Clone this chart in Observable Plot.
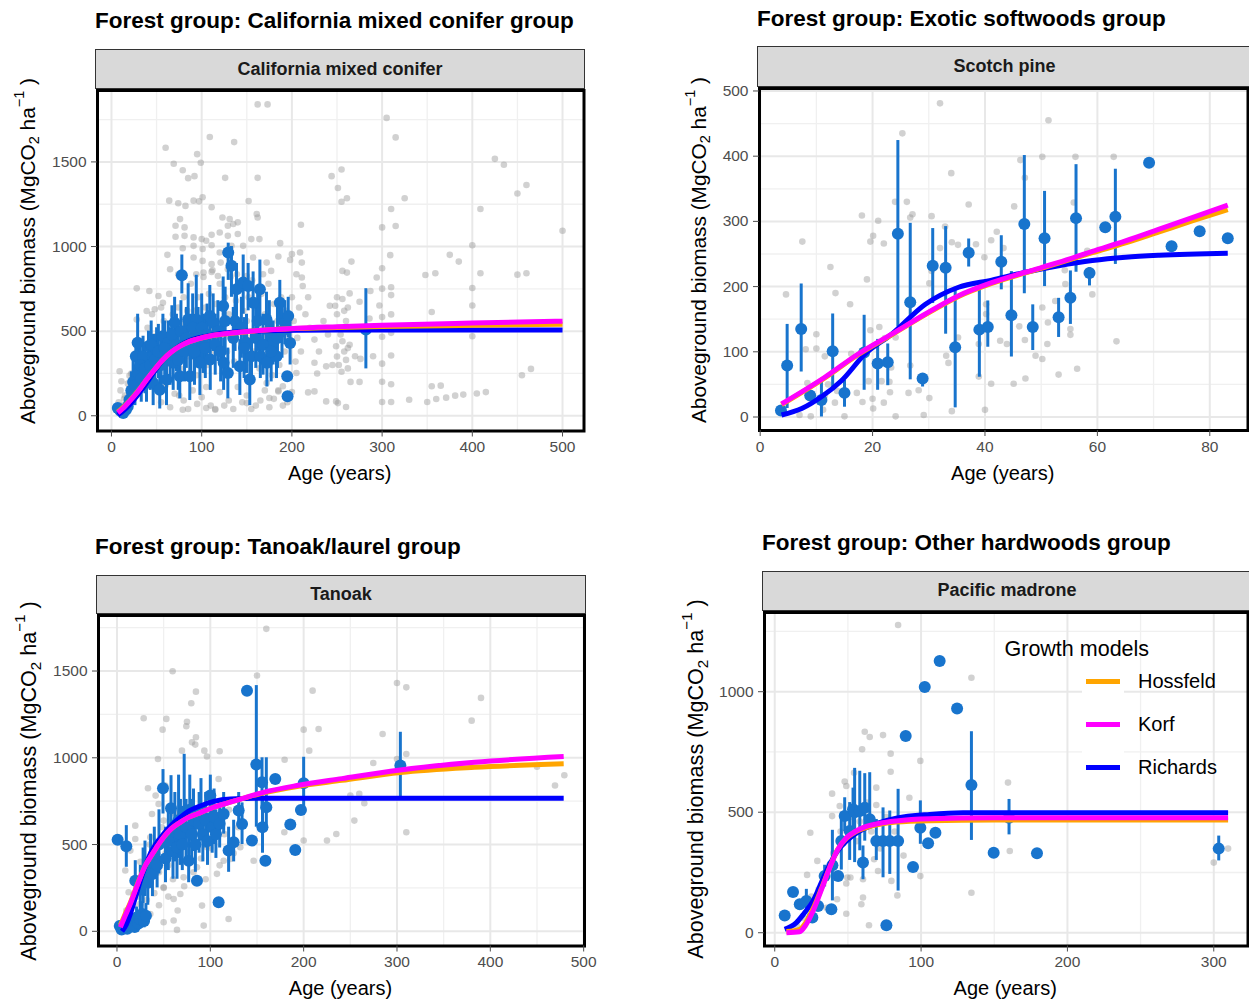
<!DOCTYPE html>
<html><head><meta charset="utf-8">
<script src="https://cdn.jsdelivr.net/npm/d3@7"></script>
<script src="https://cdn.jsdelivr.net/npm/@observablehq/plot@0.6"></script>
<style>
body{margin:0;background:#fff;}
#root{position:relative;width:1249px;height:1004px;overflow:hidden;background:#fff;font-family:"Liberation Sans",Arial,Helvetica,sans-serif;}
.title{position:absolute;font-weight:bold;font-size:22.5px;line-height:1;color:#000;white-space:nowrap;}
.strip{position:absolute;background:#d9d9d9;border:1px solid #333;box-sizing:border-box;font-weight:bold;font-size:18px;color:#1a1a1a;display:flex;align-items:center;justify-content:center;white-space:nowrap;}
.xlab{position:absolute;font-size:20px;line-height:1;transform:translateX(-50%);white-space:nowrap;color:#000;}
.ylab{position:absolute;line-height:1;white-space:nowrap;color:#000;transform:translate(-50%,-50%) rotate(-90deg);}
.sub{font-size:0.7em;position:relative;top:0.3em;}
.sup{font-size:0.7em;position:relative;top:-0.75em;}
.leg{position:absolute;line-height:1;white-space:nowrap;color:#000;}
svg.plot{position:absolute;background:transparent;}
</style></head><body><div id="root"></div>
<script>
// ---------- text ----------
const panelTitles = ["Forest group: California mixed conifer group","Forest group: Exotic softwoods group","Forest group: Tanoak/laurel group","Forest group: Other hardwoods group"];
const stripLabels = ["California mixed conifer","Scotch pine","Tanoak","Pacific madrone"];
const xTitle = "Age (years)";
const legendTitle = "Growth models";
const modelNames = ["Hossfeld","Korf","Richards"];
const modelColors = ["#FFA500","#FF00FF","#0000FF"];

// ---------- ticks ----------
const p1XTicks=[0,100,200,300,400,500], p1XMinor=[50,150,250,350,450];
const p1YTicks=[0,500,1000,1500], p1YMinor=[250,750,1250,1750];
const p2XTicks=[0,20,40,60,80], p2XMinor=[10,30,50,70];
const p2YTicks=[0,100,200,300,400,500], p2YMinor=[50,150,250,350,450];
const p3XTicks=[0,100,200,300,400,500], p3XMinor=[50,150,250,350,450];
const p3YTicks=[0,500,1000,1500], p3YMinor=[250,750,1250,1750];
const p4XTicks=[0,100,200,300], p4XMinor=[50,150,250];
const p4YTicks=[0,500,1000], p4YMinor=[250,750,1250];

// ---------- Panel 1: California mixed conifer ----------
const p1Gray=[[305,1760],[315,1645],[255,1455],[251,1346],[255,1265],[261,1285],[325,1285],[310,1222],[300,1113],[315,1121],[409,1222],[425,1518],[435,1483],[460,1364],[450,1313],[500,1093],[400,1008],[375,951],[385,911],[266,911],[309,949],[300,872],[294,817],[256,856],[261,846],[348,832],[359,842],[409,842],[450,834],[460,842],[400,755],[400,652],[300,751],[310,759],[310,713],[297,652],[287,737],[275,674],[264,723],[355,613],[300,583],[310,599],[286,575],[300,467],[310,490],[400,470],[290,352],[310,356],[300,308],[270,352],[276,336],[265,200],[275,200],[300,201],[310,186],[260,52],[251,75],[300,81],[310,81],[330,95],[350,81],[360,99],[371,107],[381,119],[390,125],[405,132],[415,140],[355,174],[365,178],[455,239],[465,277],
[162,1840],[173,1840],[109,1647],[136,1617],[60,1584],[95,1546],[99,1495],[69,1489],[79,1451],[85,1404],[92,1416],[126,1406],[162,1406],[244,1416],[64,1271],[74,1256],[82,1240],[91,1271],[97,1267],[101,1291],[111,1232],[152,1269],[161,1192],[162,1172],[123,1172],[131,1162],[135,1133],[140,1143],[129,1123],[76,1162],[71,1123],[81,1113],[210,1129],[71,1058],[81,1063],[91,1054],[100,1044],[105,1034],[111,1069],[120,1083],[129,1063],[140,1074],[155,1044],[164,1044],[187,1020],[79,990],[91,1004],[101,985],[111,1008],[120,965],[133,1004],[146,1004],[62,951],[91,935],[101,915],[111,896],[121,905],[131,925],[157,935],[172,905],[185,941],[200,955],[198,921],[209,965],[211,905],[65,866],[74,836],[94,836],[102,846],[111,850],[118,826],[129,866],[139,836],[150,826],[168,836],[177,856],[205,836],[211,817],[212,767],[28,753],[42,737],[52,708],[57,668],[48,629],[39,619],[28,569],[9,263],[20,237],[11,204],[79,36],[105,46],[115,36],[150,75],[175,105],[185,144],[218,138],[225,144],[238,85],[249,85],[172,194],[190,174],[205,253],[225,313],[238,292],[249,411],
[30,300],[33,250],[36,420],[40,520],[42,320],[45,600],[48,470],[50,280],[52,380],[55,640],[58,560],[60,420],[62,310],[64,720],[66,500],[68,600],[70,380],[72,470],[74,640],[76,280],[78,540],[80,700],[82,420],[84,620],[86,350],[88,780],[90,500],[92,620],[94,240],[96,700],[98,560],[100,420],[102,820],[104,640],[106,300],[108,720],[110,520],[112,860],[114,380],[116,660],[118,460],[120,780],[122,560],[124,260],[126,700],[128,380],[130,600],[132,820],[134,470],[136,320],[138,680],[140,540],[142,760],[144,420],[146,620],[148,300],[150,560],[152,700],[154,460],[156,800],[158,380],[160,640],[162,520],[164,280],[166,720],[168,460],[170,600],[172,360],[174,780],[176,520],[178,240],[180,660],[182,430],[184,560],[186,300],[188,700],[190,480],[192,380],[194,620],[196,520],[198,420],[200,700],[202,560],[204,320],[206,460],[208,640],[210,380],
[60,180],[70,130],[80,90],[90,150],[100,110],[110,60],[120,140],[130,90],[140,170],[150,120],[160,60],[170,150],[180,100],[190,60],[200,140],[55,80],[65,50],[75,120],[85,40],[95,70],[105,170],[115,40],[125,60],[135,40],[145,80],[155,40],[165,90],[175,50],[185,150],[195,80],
[250,600],[252,520],[254,480],[256,440],[258,620],[260,560],[262,400],[250,350],[252,300],[255,260],[258,380],[260,330],[262,280],[264,420],[248,650],[250,700],[256,690],[262,640],[215,600],[220,520],[225,450],[230,380],[235,560],[240,480],[245,300],[228,250],[218,700],[242,650],
[5,50],[8,80],[10,150],[12,30],[14,100],[16,60],[18,190],[20,140],[22,250],[24,90],[26,160],[8,20],[12,60],[15,120]];
const p1Means=[[7,46,30,60],[10,30,10,55],[13,16,5,30],[16,35,10,80],[18,55,20,110],[20,95,40,150],[23,120,60,200],[25,160,90,230],[27,352,240,440],[29,431,260,600],[35,352,200,470],[38.8,194,80,330],[41,411,300,500],[46,352,220,480],[46.2,194,60,300],[50,391,250,520],[53.5,154,40,260],[57,470,330,600],[61,214,60,340],[63,431,300,560],[68.4,313,150,460],[70,550,380,700],[75.7,233,100,360],[78,830,720,950],[85,569,380,780],[86.8,233,90,380],[94,569,330,830],[98,313,120,500],[101.6,431,250,600],[109,589,420,770],[109.5,332,150,480],[112.7,550,380,720],[123.8,648,480,820],[124.3,313,150,460],[129.4,965,800,1020],[133,886,700,1000],[129,253,100,400],[138.6,747,550,900],[142.3,292,120,450],[146,787,600,950],[149.7,431,250,600],[151.5,767,620,900],[153.3,214,60,360],[155.2,352,200,500],[157,668,480,850],[164.5,747,560,920],[165,352,220,500],[171.8,569,400,730],[172.3,313,170,460],[179.2,431,300,560],[182.9,352,220,480],[186.6,668,540,800],[192.1,550,420,680],[194.8,233,233,233],[195.2,115,115,115],[195.9,589,460,700],[282,510,277,751],
[22,150,60,260],[24,200,80,330],[26,180,60,300],[30,250,120,380],[32,300,150,440],[33,220,80,360],[37,280,130,420],[43,300,150,450],[44,420,280,560],[48,330,170,480],[52,380,220,540],[55,300,120,460],[59,400,240,560],[65,360,180,520],[67,480,300,650],[72,420,260,600],[74,330,150,500],[77,500,330,680],[81,380,200,560],[83,460,280,640],[88,420,250,600],[90,520,330,720],[92,380,180,560],[96,460,280,640],[100,520,320,720],[104,400,220,580],[106,480,300,660],[115,420,240,600],[118,500,320,680],[121,380,200,560],[126,560,360,760],[135,460,280,640],[137,560,380,740],[144,520,340,700],[147,400,220,580],[160,460,280,640],[162,560,380,740],[168,420,240,600],[175,500,320,680],[177,380,200,560],[184,460,280,640],[189,500,340,660],[198,430,300,560]];
const p1Hossfeld=[[7,22],[12,45],[20,88],[30,150],[39,214],[48,275],[57,331],[66,375],[76,411],[85,435],[94,451],[112,474],[131,486],[168,505],[205,515],[250,521],[300,527],[400,535],[500,541]];
const p1Korf=[[7,18],[12,40],[20,85],[30,148],[39,214],[48,275],[57,331],[66,375],[76,411],[85,435],[94,451],[112,474],[131,487],[168,506],[205,517],[250,526],[300,535],[400,548],[500,559]];
const p1Richards=[[7,5],[12,25],[20,65],[30,130],[39,195],[48,265],[57,330],[66,375],[76,415],[85,440],[94,457],[112,478],[131,492],[150,499],[168,503],[205,506],[300,507],[500,507]];

// ---------- Panel 2: Scotch pine ----------
const p2Gray=[[32.0,481],[51.3,455],[25.3,435],[7.5,269],[12.5,230],[4.6,188],[13.4,190],[16.0,173],[19.0,211],[18.1,309],[19.6,269],[20.1,278],[21.0,301],[22.0,266],[24.0,330],[26.1,330],[26.7,306],[27.1,311],[30.5,308],[32.0,259],[34.0,374],[37.1,326],[34.1,268],[35.2,264],[38.4,265],[39.9,245],[41.1,271],[42.1,284],[43.3,259],[45.2,323],[46.3,394],[47.1,367],[50.2,399],[56.1,399],[62.9,399],[55.8,329],[58.2,255],[59.1,188],[54.2,225],[54.3,204],[52.5,178],[50.2,168],[51.2,145],[51.1,112],[55.2,135],[55.2,126],[46.1,139],[47.1,118],[43.9,112],[45.1,51],[47.2,59],[49.0,94],[50.2,89],[53.1,65],[56.4,74],[63.4,116],[42.7,117],[40.2,173],[40.2,158],[38.9,62],[35.2,122],[33.1,94],[33.5,83],[34.1,9],[30.1,29],[29.1,3],[26.4,37],[28.2,41],[24.1,1],[23.1,38],[23.0,54],[23.3,76],[21.6,55],[22.0,22],[20.1,13],[20.0,28],[19.3,55],[18.2,23],[17.2,37],[16.2,97],[15.0,1],[13.7,40],[13.3,22],[11.5,33],[11.5,93],[10.0,105],[10.0,127],[8.1,104],[8.4,52],[9.0,1],[7.0,3],[11.2,11],[12.1,50],[19.6,133],[21.2,138],[22.2,121],[24.1,122],[26.7,79],[30.1,205],[30.5,224],[32.9,292],[38.9,112],[40.0,11],[41.1,51]];
const p2Means=[[3.7,10,10,10],[4.8,79,13,142],[7.3,135,69,204],[8.9,33,33,33],[10.9,26,0,54],[12.9,101,43,158],[15.0,37,15,56],[18.5,99,41,156],[20.9,82,41,119],[22.7,84,48,112],[24.5,281,138,424],[26.7,176,57,297],[28.9,59,46,66],[30.7,232,174,289],[33.0,229,127,292],[34.7,107,14,199],[37.1,252,230,273],[39.0,134,61,206],[40.5,138,107,178],[42.9,238,195,278],[44.7,156,92,223],[47.0,296,189,401],[48.5,138,102,172],[50.6,274,200,346],[53.1,153,122,182],[55.2,183,142,224],[56.2,305,222,387],[58.6,221,201,229],[61.4,291,291,291],[63.2,307,234,380],[69.2,390,390,390],[73.2,262,262,262],[78.2,285,285,285],[83.2,274,274,274]];
const p2Hossfeld=[[3.8,19],[11.5,60],[17.5,96],[23.4,126],[29.4,157],[35.3,185],[41.2,205],[47.2,221],[53.1,236],[59.1,252],[65,267],[71,284],[77,301],[83.2,318]];
const p2Korf=[[3.8,20],[11.5,61],[17.5,97],[23.4,127],[29.4,158],[35.3,186],[41.2,206],[47.2,222],[53.1,237],[59.1,254],[65,270],[71,288],[77,306],[83.2,325]];
const p2Richards=[[3.8,3],[7.4,13],[10.9,31],[14.5,56],[18.7,97],[23.4,127],[29.4,173],[35.3,199],[41.2,210],[47.2,222],[53.1,232],[59.1,240],[65,245],[71,248],[83.2,251]];

// ---------- Panel 3: Tanoak ----------
const p3Gray=[[160,1743],[59.6,1499],[150,1474],[84.6,1381],[79.6,1314],[209.6,1387],[28.6,1228],[52.9,1224],[48.9,1162],[75,1208],[74.3,1182],[200,1162],[216,1166],[80.4,1089],[83.9,1076],[84.6,1118],[69.6,1041],[93.6,1041],[110,1038],[206,1041],[96.4,1007],[43.9,993],[108.9,878],[100,792],[179.6,989],[33.2,824],[44.6,734],[41.4,782],[37.5,676],[51.8,840],[19.6,609],[19.6,532],[14.3,465],[8.9,350],[12.5,225],[17.9,215],[25,158],[35.7,100],[50,52],[60.7,62],[64.3,8],[92.9,33],[91.1,148],[119.6,71],[67.9,215],[60.7,186],[50,254],[71.4,311],[85.7,369],[107.1,331],[114.3,407],[200,523],[225,523],[235,561],[179.3,571],[132.1,484],[121.4,417],[96.4,484],[146.4,407],[50,638],[62.5,676],[35.7,542],[41.1,446],[30.4,311],
[300,1431],[310,1406],[390,1345],[380,1214],[284.6,1137],[274.6,970],[300,993],[310,1022],[250,782],[259.6,792],[265,738],[254.3,638],[310,571],[450,949],[469.3,840],[479.3,899],
[5,20],[8,60],[10,120],[12,40],[15,80],[18,150],[20,30],[22,200],[25,260],[28,100],[30,380],[32,180],[35,300],[38,420],[40,220],[42,520],[45,340],[48,600],[50,250],[52,450],[55,380],[58,560],[60,300],[62,480],[65,620],[68,400],[70,540],[72,260],[75,680],[78,460],[80,580],[82,340],[85,500],[88,640],[90,420],[92,560],[95,300],[98,700],[100,480],[105,600],[110,380],[115,560],[120,700],[125,450],[130,600],[25,400],[35,500],[45,150],[55,200],[65,120]];
const p3Means=[[3,30,10,60],[5,10,0,30],[7,20,0,50],[9,40,10,80],[11,15,0,40],[13,50,20,90],[15,30,5,60],[17,60,20,100],[19,25,0,60],[21,80,30,140],[23,45,10,90],[25,70,20,130],[27,100,40,170],[29,60,20,110],[31,90,30,160],
[0.7,527,527,527],[10,490,369,609],[19.6,292,177,407],[25,240,120,380],[28,300,160,480],[30,350,200,520],[33,280,150,420],[36,400,250,560],[38,330,200,480],[40,450,300,600],[43,380,250,520],[45,500,330,700],[49.3,824,676,932],[52,420,280,600],[55,520,350,700],[57.9,709,503,897],[60,460,300,640],[62,600,400,800],[64.3,484,300,650],[66,640,420,900],[68,560,380,760],[70,500,350,720],[72,680,480,1020],[74,600,420,760],[76.8,407,280,560],[78,700,520,900],[80,560,380,760],[82,640,460,820],[84,500,340,700],[85.7,292,292,292],[88,620,450,800],[90,700,520,880],[92,560,400,720],[95,640,480,800],[97,520,380,680],[100,782,620,900],[102,600,450,760],[104,660,500,820],[106,560,420,700],[108.9,167,167,167],[110,620,480,760],[114.3,676,560,800],[119.6,465,340,600],[125,513,400,640],[130.4,696,600,800],[134,619,500,740],[139.3,1387,1387,1387],[144.6,523,523,523],[149.3,961,600,1416],[155.4,859,700,1000],[155.9,600,450,760],[160,715,600,1000],[159,407,407,407],[169.6,878,878,878],[185.7,615,615,615],[191,469,469,469],[197.1,699,699,699],[200,853,705,1003],[303.6,955,776,1147]];
const p3Hossfeld=[[3.6,35],[8,90],[14.3,165],[20,245],[25,313],[30,375],[35.7,427],[42,480],[50,542],[58,590],[67.9,628],[76,655],[85.7,676],[103.6,715],[121.4,744],[157,798],[193,835],[241,870],[303.6,915],[383,945],[478.6,965]];
const p3Korf=[[3.6,23],[8,80],[14.3,158],[20,240],[25,311],[30,375],[35.7,427],[42,480],[50,542],[58,590],[67.9,628],[76,655],[85.7,676],[103.6,715],[121.4,744],[157,801],[193,840],[241,880],[303.6,930],[383,974],[478.6,1007]];
const p3Richards=[[5.4,0],[10,40],[14.3,100],[20,200],[25,292],[30,370],[35.7,446],[42,505],[50,561],[58,610],[67.9,657],[76,690],[85.7,715],[103.6,749],[121.4,763],[150,767],[478.6,767]];

// ---------- Panel 4: Pacific madrone ----------
const p4Gray=[[84.3,1277],[134.4,1058],[61.5,834],[64.9,812],[74,820],[59.7,761],[79.2,743],[99.5,713],[79.2,668],[54.2,664],[47.8,627],[48.9,609],[69.4,602],[39.2,577],[44.4,526],[69.4,530],[39.2,484],[58.1,461],[24.3,415],[29.1,298],[22.1,240],[49.6,229],[51.7,229],[48.9,204],[60.3,222],[67.9,305],[70.6,256],[79.7,215],[99.5,235],[83.8,155],[60.3,146],[59.2,118],[42.6,139],[35.3,104],[48.9,79],[64.4,31],[134.4,166],[159.4,623],[160.6,339],[300,291],[309.8,349],[99.1,477],[45,420],[52,480],[56,380],[63,540],[66,420],[72,350],[76,480],[82,420],[88,320],[92,560],[30,180],[35,240],[40,330],[20,60],[15,30],[25,150]];
const p4Means=[[6.8,72,72,72],[12.5,169,169,169],[17.1,118,118,118],[21.6,132,90,180],[25.7,63,40,110],[29.6,111,111,111],[34.1,235,190,280],[38.7,97,97,97],[39.4,280,132,425],[43.3,235,235,235],[45.5,381,260,500],[47.8,484,420,560],[51.2,422,300,540],[53.5,512,420,600],[54.6,500,291,682],[58.1,505,340,670],[61.5,519,380,660],[64.9,471,450,664],[60.3,291,220,360],[69.4,381,300,470],[74,381,228,518],[78.6,381,242,505],[84.3,381,173,595],[76.3,31,31,31],[89.5,816,816,816],[94.5,273,273,273],[99.5,436,367,547],[102.5,1020,1020,1020],[104.8,371,371,371],[109.8,415,415,415],[112.7,1127,1127,1127],[124.6,930,930,930],[134.4,613,383,834],[149.6,332,332,332],[160.1,477,406,553],[179.2,330,330,330],[303.4,349,298,401]];
const p4Hossfeld=[[8,5],[17,14],[21,40],[26.2,100],[32,185],[37.6,272],[43,345],[49,392],[55,418],[60.3,432],[71.7,450],[83.1,459],[105.9,465],[150,468],[309.8,468]];
const p4Korf=[[8,0],[17,4],[21,30],[26.2,90],[32,180],[37.6,270],[43,345],[49,394],[55,420],[60.3,436],[71.7,454],[83.1,464],[105.9,473],[150,477],[309.8,477]];
const p4Richards=[[6.8,14],[14.8,42],[20,80],[26.2,132],[32,210],[37.6,284],[43,340],[49,381],[55,410],[60.3,429],[71.7,457],[83.1,475],[105.9,491],[128.7,498],[309.8,498]];

// ---------- drawing ----------
const FONT='"Liberation Sans", Arial, Helvetica, sans-serif';
const PT_BLUE="#1874CD";
const root=document.getElementById("root");

function addDiv(cls, html, style){
  const d=document.createElement("div");
  d.className=cls; d.innerHTML=html;
  Object.assign(d.style, style);
  root.appendChild(d); return d;
}

function makePanel(cfg){
  const mL=75,mR=10,mT=10,mB=40;
  const W=(cfg.R-cfg.L)+mL+mR, H=(cfg.B-cfg.T)+mT+mB;
  const means=cfg.means.map(d=>({x:d[0],y:d[1],lo:d[2],hi:d[3]}));
  const X=d=>d[0], Y=d=>d[1];
  const lineOpts=(c)=>({x:X,y:Y,stroke:c,strokeWidth:5,curve:"monotone-x",strokeLinecap:"butt"});
  const svg=Plot.plot({
    width:W,height:H,marginLeft:mL,marginRight:mR,marginTop:mT,marginBottom:mB,
    x:{domain:cfg.xdom}, y:{domain:cfg.ydom},
    style:{fontFamily:FONT,fontSize:"15.5px",color:"#4d4d4d",background:"transparent",overflow:"visible"},
    marks:[
      Plot.ruleX(cfg.xminor,{stroke:"#f0f0f0",strokeWidth:1.3}),
      Plot.ruleY(cfg.yminor,{stroke:"#f0f0f0",strokeWidth:1.3}),
      Plot.ruleX(cfg.xticks,{stroke:"#e8e8e8",strokeWidth:2}),
      Plot.ruleY(cfg.yticks,{stroke:"#e8e8e8",strokeWidth:2}),
      Plot.dot(cfg.gray,{x:X,y:Y,r:3.3,fill:"#999999",fillOpacity:0.45}),
      Plot.ruleX(means,{x:"x",y1:"lo",y2:"hi",stroke:PT_BLUE,strokeWidth:3}),
      Plot.dot(means,{x:"x",y:"y",r:6,fill:PT_BLUE}),
      Plot.line(cfg.rich,lineOpts(modelColors[2])),
      Plot.line(cfg.hoss,lineOpts(modelColors[0])),
      Plot.line(cfg.korf,lineOpts(modelColors[1])),
      Plot.frame({stroke:"#000",strokeWidth:3}),
      Plot.axisX({ticks:cfg.xticks,tickFormat:"d",tickSize:6,tickPadding:4,label:null,color:"#4d4d4d"}),
      Plot.axisY({ticks:cfg.yticks,tickFormat:"d",tickSize:6,tickPadding:5,label:null,color:"#4d4d4d"})
    ]
  });
  svg.classList.add("plot");
  svg.style.left=(cfg.L-mL)+"px"; svg.style.top=(cfg.T-mT)+"px";
  root.appendChild(svg);
  // titles and strips
  addDiv("title",cfg.title,{left:cfg.titleX+"px",top:(cfg.titleBase-19.05)+"px"});
  addDiv("strip",cfg.strip,{left:cfg.sL+"px",top:cfg.sT+"px",width:cfg.sW+"px",height:cfg.sH+"px"});
  addDiv("xlab",xTitle,{left:((cfg.L+cfg.R)/2)+"px",top:(cfg.xlabBase-16.9)+"px"});
  addDiv("ylab",'Aboveground biomass (MgCO<span class="sub">2</span> ha<span class="sup">\u22121</span> )',
    {left:cfg.ylabX+"px",top:cfg.ylabY+"px",fontSize:cfg.ylabSize+"px"});
}

makePanel({L:96.5,R:583,T:89.5,B:430,xdom:[-15.5,523.8],ydom:[-90,1922],
  xticks:p1XTicks,xminor:p1XMinor,yticks:p1YTicks,yminor:p1YMinor,
  gray:p1Gray,means:p1Means,hoss:p1Hossfeld,korf:p1Korf,rich:p1Richards,
  title:panelTitles[0],titleX:95,titleBase:29.5,strip:stripLabels[0],sL:95,sT:49,sW:490,sH:40,xlabBase:480,
  ylabX:28,ylabY:251,ylabSize:20.8});
makePanel({L:758.5,R:1247,T:87.5,B:429.5,xdom:[-0.12,86.8],ydom:[-20.7,503.8],
  xticks:p2XTicks,xminor:p2XMinor,yticks:p2YTicks,yminor:p2YMinor,
  gray:p2Gray,means:p2Means,hoss:p2Hossfeld,korf:p2Korf,rich:p2Richards,
  title:panelTitles[1],titleX:757,titleBase:26.7,strip:stripLabels[1],sL:757,sT:46,sW:495,sH:41,xlabBase:480,
  ylabX:699,ylabY:250,ylabSize:20.8});
makePanel({L:97.5,R:583.5,T:614.5,B:945,xdom:[-19.8,500.9],ydom:[-84.7,1820],
  xticks:p3XTicks,xminor:p3XMinor,yticks:p3YTicks,yminor:p3YMinor,
  gray:p3Gray,means:p3Means,hoss:p3Hossfeld,korf:p3Korf,rich:p3Richards,
  title:panelTitles[2],titleX:95,titleBase:555.5,strip:stripLabels[2],sL:96,sT:574.5,sW:490,sH:39,xlabBase:995,
  ylabX:28.5,ylabY:781,ylabSize:21.6});
makePanel({L:763.5,R:1247,T:611.5,B:945,xdom:[-7,323.4],ydom:[-55,1328.6],
  xticks:p4XTicks,xminor:p4XMinor,yticks:p4YTicks,yminor:p4YMinor,
  gray:p4Gray,means:p4Means,hoss:p4Hossfeld,korf:p4Korf,rich:p4Richards,
  title:panelTitles[3],titleX:762,titleBase:551.5,strip:stripLabels[3],sL:762,sT:570.5,sW:490,sH:40,xlabBase:995,
  ylabX:696,ylabY:779,ylabSize:21.6});

// legend inside panel 4
addDiv("leg",legendTitle,{left:"1004.5px",top:(656.7-18.2)+"px",fontSize:"21.5px"});
const keyY=[681,724,767];
modelNames.forEach((nm,i)=>{
  addDiv("leg","",{left:"1082px",top:(keyY[i]-21.5)+"px",width:"42px",height:"43px",background:"#fff"});
  addDiv("leg","",{left:"1086px",top:(keyY[i]-2.5)+"px",width:"34px",height:"5px",background:modelColors[i]});
  addDiv("leg",nm,{left:"1138px",top:(keyY[i]+7.3-16.9)+"px",fontSize:"20px"});
});
</script></body></html>
